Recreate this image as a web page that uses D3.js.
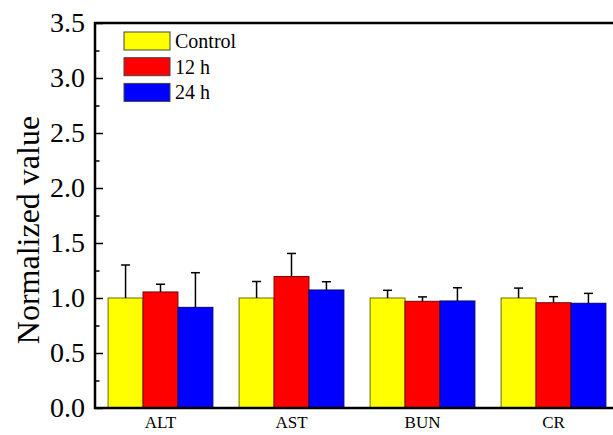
<!DOCTYPE html>
<html>
<head>
<meta charset="utf-8">
<script src="https://cdn.jsdelivr.net/npm/d3@7"></script>
<style>
  html, body { margin: 0; padding: 0; background: #fff; }
  svg { display: block; }
</style>
</head>
<body>
<svg id="chart" width="613" height="435"></svg>
<script>
const categories = ["ALT", "AST", "BUN", "CR"];
const seriesNames = ["Control", "12 h", "24 h"];
const controlValues = [1.0, 1.0, 1.0, 1.0];
const h12Values = [1.055, 1.195, 0.97, 0.957];
const h24Values = [0.915, 1.073, 0.973, 0.952];
const controlErr = [0.30, 0.15, 0.07, 0.09];
const h12Err = [0.07, 0.21, 0.04, 0.055];
const h24Err = [0.315, 0.075, 0.12, 0.09];
const yTickValues = [0.0, 0.5, 1.0, 1.5, 2.0, 2.5, 3.0, 3.5];
const yMinorTicks = [0.25, 0.75, 1.25, 1.75, 2.25, 2.75, 3.25];

const fills = ["#FFFF00", "#FF0000", "#0000FF"];
const strokes = ["#6b6b00", "#7a0000", "#00007a"];
const serif = "'Liberation Serif', 'Times New Roman', Times, serif";

const seriesValues = [controlValues, h12Values, h24Values];
const seriesErrs = [controlErr, h12Err, h24Err];

const svg = d3.select("#chart");
const mLeft = 95, mRight = 619, mTop = 23, mBottom = 408;

const x = d3.scaleBand().domain(categories).range([mLeft, mRight]).paddingInner(0.2).paddingOuter(0.1);
const xs = d3.scaleBand().domain(seriesNames).range([0, x.bandwidth()]).padding(0);
const y = d3.scaleLinear().domain([0, 3.5]).range([mBottom, mTop]);

const rows = [];
categories.forEach((c, i) => {
  seriesNames.forEach((s, j) => {
    rows.push({cat: c, ser: s, j: j, v: seriesValues[j][i], e: seriesErrs[j][i]});
  });
});

// bars
svg.append("g").selectAll("rect").data(rows).join("rect")
  .attr("x", d => x(d.cat) + xs(d.ser))
  .attr("y", d => y(d.v))
  .attr("width", xs.bandwidth())
  .attr("height", d => y(0) - y(d.v))
  .attr("fill", d => fills[d.j])
  .attr("stroke", d => strokes[d.j])
  .attr("stroke-width", 1);

// error bars (upper only)
const eb = svg.append("g").attr("stroke", "#000").attr("stroke-width", 1.5);
eb.selectAll("line.v").data(rows).join("line").attr("class", "v")
  .attr("x1", d => x(d.cat) + xs(d.ser) + xs.bandwidth() / 2)
  .attr("x2", d => x(d.cat) + xs(d.ser) + xs.bandwidth() / 2)
  .attr("y1", d => y(d.v))
  .attr("y2", d => y(d.v + d.e));
eb.selectAll("line.c").data(rows).join("line").attr("class", "c")
  .attr("x1", d => x(d.cat) + xs(d.ser) + xs.bandwidth() / 2 - 4.5)
  .attr("x2", d => x(d.cat) + xs(d.ser) + xs.bandwidth() / 2 + 4.5)
  .attr("y1", d => y(d.v + d.e))
  .attr("y2", d => y(d.v + d.e));

// y axis
const yAxis = d3.axisLeft(y).tickValues(yTickValues).tickFormat(d3.format(".1f"))
  .tickSizeInner(-8).tickSizeOuter(0).tickPadding(10);
const gy = svg.append("g").attr("transform", `translate(${mLeft},0)`).call(yAxis);
gy.attr("font-family", null);
gy.select(".domain").remove();
gy.selectAll(".tick line").attr("stroke", "#000").attr("stroke-width", 1.5);
gy.selectAll(".tick text").style("font-size", "28px").style("font-family", serif).attr("fill", "#000");

const gyMinor = svg.append("g").attr("transform", `translate(${mLeft},0)`)
  .call(d3.axisLeft(y).tickValues(yMinorTicks).tickSizeInner(-4.5).tickSizeOuter(0).tickFormat(""));
gyMinor.select(".domain").remove();
gyMinor.selectAll(".tick line").attr("stroke", "#000").attr("stroke-width", 1.5);

// x axis
const xAxis = d3.axisBottom(x).tickSize(0).tickPadding(8);
const gx = svg.append("g").attr("transform", `translate(0,${mBottom})`).call(xAxis);
gx.attr("font-family", null);
gx.select(".domain").remove();
gx.selectAll(".tick text").style("font-size", "17px").style("font-family", serif).attr("fill", "#000");

// frame
svg.append("rect").attr("x", mLeft).attr("y", mTop).attr("width", mRight - mLeft).attr("height", mBottom - mTop)
  .attr("fill", "none").attr("stroke", "#000").attr("stroke-width", 2.5);

// y title
svg.append("text")
  .attr("transform", "translate(39,230) rotate(-90)")
  .attr("text-anchor", "middle")
  .style("font-family", serif)
  .style("font-size", "32px")
  .text("Normalized value");

// legend
const lg = svg.append("g").attr("transform", "translate(124,32)");
seriesNames.forEach((s, j) => {
  const g = lg.append("g").attr("transform", `translate(0,${j * 25.7})`);
  g.append("rect").attr("width", 46).attr("height", 18)
    .attr("fill", fills[j]).attr("stroke", "#444").attr("stroke-width", 1);
  g.append("text").attr("x", 51).attr("y", 16)
    .style("font-family", serif).style("font-size", "20px").text(s);
});
</script>
</body>
</html>
